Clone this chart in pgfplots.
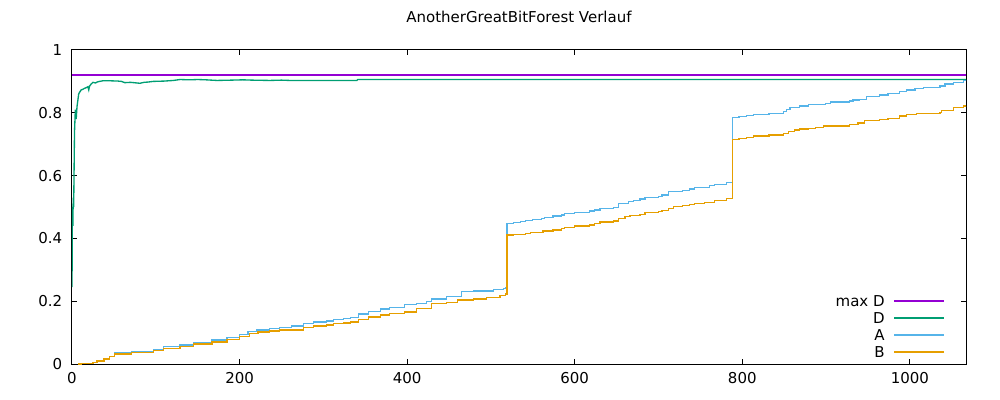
\documentclass[border=0pt]{standalone}
\usepackage{fontspec}
\setmainfont{DejaVu Sans}
\usepackage{pgfplots}
\pgfplotsset{compat=1.18}
\definecolor{gpviolet}{HTML}{9400D3}
\definecolor{gpgreen}{HTML}{009E73}
\definecolor{gpblue}{HTML}{56B4E9}
\definecolor{gporange}{HTML}{E69F00}

\begin{document}
\begin{tikzpicture}
\useasboundingbox (-54pt,-27pt) rectangle (696pt,273pt);
\begin{axis}[
    at={(0pt,0pt)}, anchor=south west,
    scale only axis,
    width=670.5pt, height=235.5pt,
    xmin=0, xmax=1067, ymin=0, ymax=1,
    xtick={0,200,400,600,800,1000},
    ytick={0,0.2,0.4,0.6,0.8,1},
    yticklabels={0,0.2,0.4,0.6,0.8,1},
    xticklabels={0,200,400,600,800,1000},
    tick align=inside,
    major tick length=3.4pt,
    axis line style={line width=0.75pt},
    every tick/.style={black, line width=0.75pt},
    font=\fontsize{11.25}{13.5}\selectfont,
    xticklabel style={anchor=center, yshift=-10.5pt},
    yticklabel style={anchor=east, xshift=-3.75pt},
    title={AnotherGreatBitForest Verlauf},
    title style={at={(0.5,1)}, anchor=center, yshift=18.75pt},
    legend cell align=right,
    legend plot pos=right,
    legend image code/.code={\draw[#1] (0pt,0pt) -- (37.5pt,0pt);},
    legend style={at={(1,0)}, anchor=south east, xshift=-15.75pt, yshift=2.6pt,
        draw=none, fill=none, inner sep=0pt, outer sep=0pt,
        row sep=0pt, column sep=6.75pt,
        nodes={inner sep=0pt, text height=10.5pt, text depth=2.25pt}},
    every axis plot/.append style={line width=1pt, no markers},
]
\addplot[gpviolet] coordinates {(0,0.920) (1067,0.920)};
\addlegendentry{max D}

\addplot[gpgreen] coordinates {
(0,0.245) (0.5,0.50) (1,0.44) (1.5,0.53) (2,0.50) (3,0.74) (4,0.81) (5,0.78)
(6,0.82) (7,0.84) (8,0.86) (9,0.865) (11,0.873) (13,0.875) (15,0.878) (17,0.880)
(19,0.883) (20,0.873) (21,0.885) (23,0.892) (25,0.897) (28,0.895) (30,0.898)
(33,0.900) (37,0.902) (45,0.902) (55,0.901) (59,0.900) (63,0.896) (70,0.897)
(81,0.894) (86,0.897) (91,0.898) (97,0.900) (110,0.901) (121,0.903) (129,0.906)
(140,0.905) (150,0.906) (160,0.905) (173,0.903) (190,0.904) (204,0.905)
(215,0.904) (236,0.903) (250,0.904) (260,0.903) (300,0.903) (340,0.903)
(341,0.906) (1067,0.906)};
\addlegendentry{D}

\addplot[gpblue, const plot] coordinates {
(7.5,0) (11,0.002) (25,0.005) (30,0.010) (38,0.016) (45,0.023) (51,0.036)
(71,0.039) (97,0.045) (109,0.055) (129,0.060) (145,0.068) (167,0.076)
(185,0.085) (200,0.095) (210,0.103) (220,0.108) (236,0.113) (248,0.117)
(262,0.121) (276,0.130) (288,0.134) (304,0.137) (312,0.142) (324,0.145)
(332,0.149) (342,0.159) (354,0.167) (368,0.175) (379,0.180) (397,0.189)
(411,0.193) (423,0.200) (429,0.207) (447,0.214) (465,0.230) (479,0.232)
(503,0.238) (515,0.241) (517,0.243) (519,0.448) (527,0.450) (535,0.453)
(541,0.456) (550,0.461) (560,0.464) (564,0.467) (574,0.471) (584,0.475)
(588,0.480) (600,0.483) (618,0.487) (624,0.490) (630,0.496) (646,0.499)
(652,0.512) (664,0.517) (670,0.520) (678,0.525) (684,0.531) (700,0.533)
(704,0.538) (712,0.549) (729,0.552) (737,0.557) (743,0.563) (761,0.568)
(767,0.572) (781,0.579) (788,0.786) (796,0.788) (805,0.792) (813,0.795)
(832,0.798) (849,0.804) (853,0.811) (857,0.817) (868,0.822) (879,0.826)
(899,0.830) (905,0.834) (928,0.838) (932,0.841) (940,0.843) (948,0.851)
(964,0.857) (974,0.862) (988,0.867) (996,0.873) (1006,0.878) (1016,0.881)
(1036,0.885) (1042,0.892) (1052,0.897) (1064,0.902) (1067,0.903)};
\addlegendentry{A}

\addplot[gporange, const plot] coordinates {
(7.5,0) (11,0.002) (25,0.005) (30,0.010) (38,0.016) (45,0.023) (51,0.032)
(71,0.036) (97,0.042) (109,0.050) (129,0.056) (145,0.064) (167,0.070)
(185,0.078) (200,0.087) (212,0.097) (222,0.102) (236,0.105) (248,0.108)
(276,0.117) (288,0.121) (304,0.124) (312,0.128) (324,0.131) (332,0.134)
(342,0.142) (354,0.150) (368,0.156) (379,0.160) (397,0.166) (411,0.176)
(429,0.193) (447,0.196) (460,0.204) (479,0.207) (495,0.212) (511,0.218)
(517,0.223) (519,0.411) (527,0.413) (541,0.416) (547,0.419) (562,0.424)
(574,0.427) (584,0.432) (588,0.435) (600,0.439) (618,0.443) (624,0.448)
(630,0.452) (646,0.455) (652,0.464) (660,0.469) (666,0.472) (678,0.477)
(684,0.483) (700,0.485) (704,0.488) (712,0.496) (718,0.501) (729,0.504)
(737,0.509) (743,0.512) (755,0.515) (767,0.520) (781,0.528) (788,0.716)
(796,0.719) (805,0.722) (813,0.726) (832,0.729) (849,0.735) (855,0.740)
(862,0.745) (868,0.748) (879,0.751) (887,0.754) (897,0.758) (928,0.763)
(938,0.768) (946,0.775) (964,0.779) (974,0.782) (988,0.790) (996,0.795)
(1008,0.798) (1036,0.802) (1038,0.807) (1052,0.817) (1064,0.822) (1067,0.823)};
\addlegendentry{B}
\end{axis}
\end{tikzpicture}
\end{document}
